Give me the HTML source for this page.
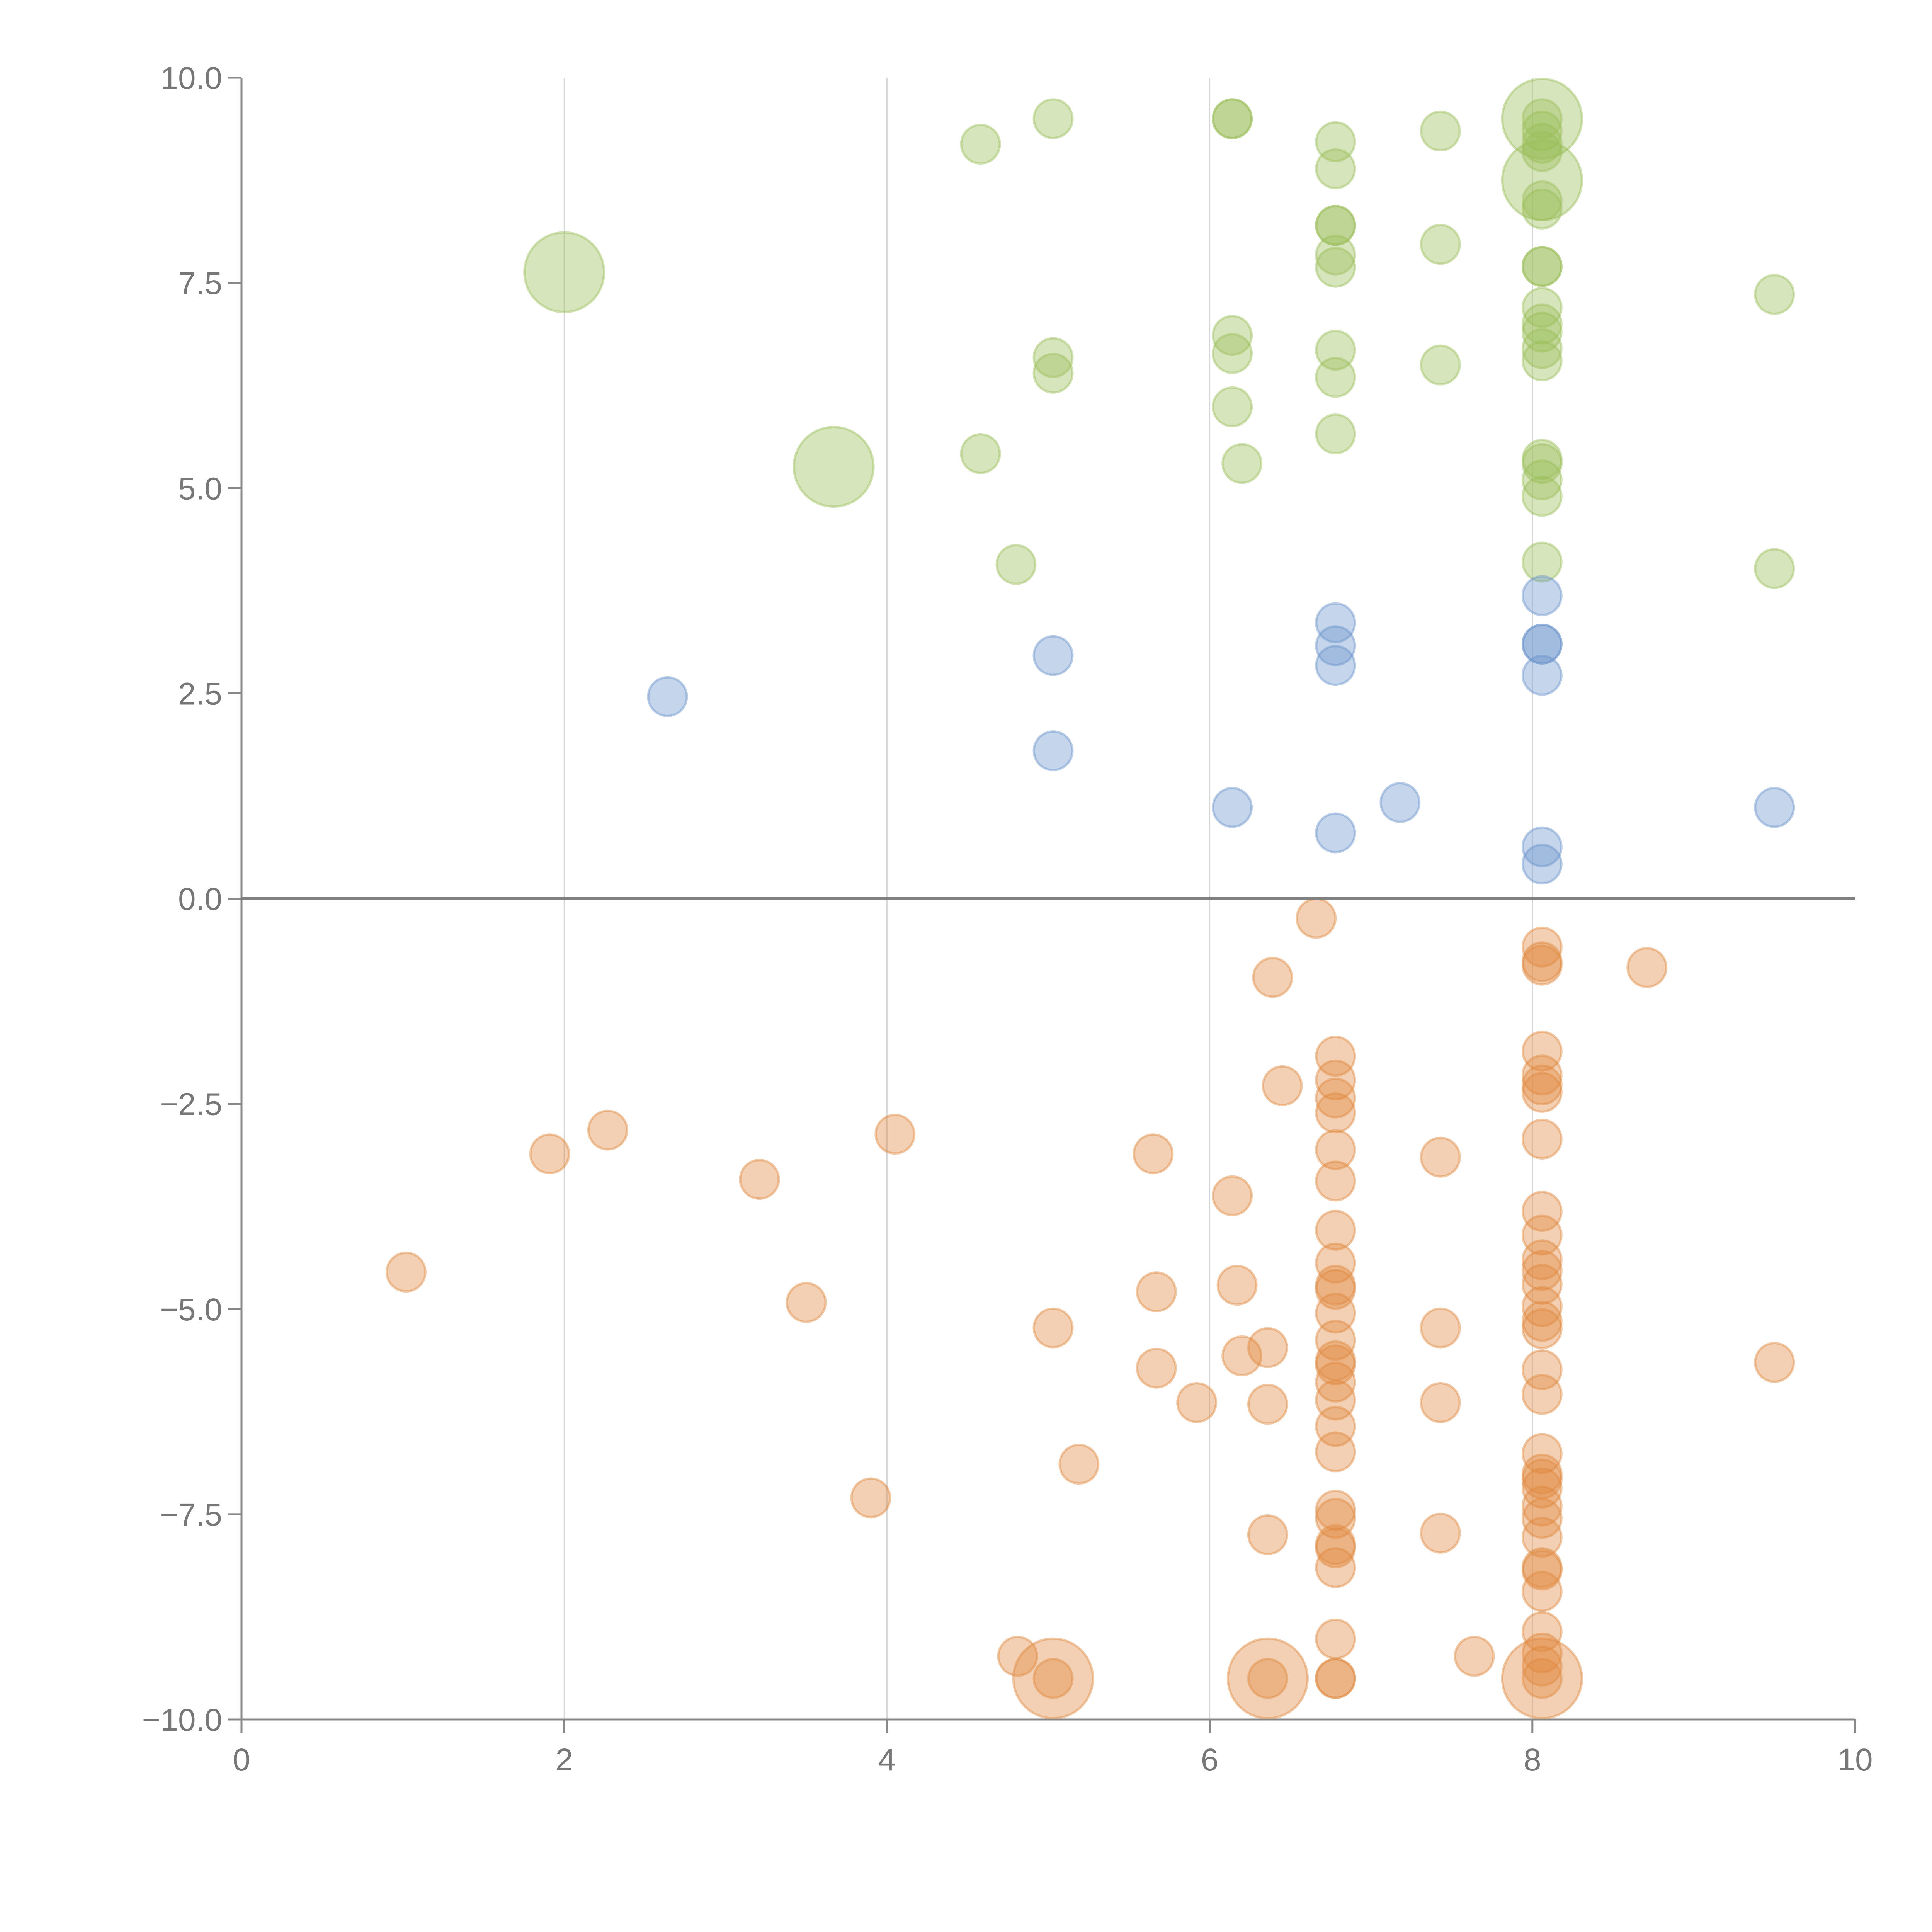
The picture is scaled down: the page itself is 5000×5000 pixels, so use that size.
<!DOCTYPE html>
<html><head><meta charset="utf-8"><style>html,body{margin:0;padding:0;background:#fff}svg{display:block}</style></head>
<body>
<svg id="chart" width="5000" height="5000" viewBox="0 0 5000 5000" xmlns="http://www.w3.org/2000/svg" font-family="Liberation Sans, sans-serif"></svg>
<script>
const xTicks = [0,2,4,6,8,10];
const yTicks = [10,7.5,5,2.5,0,-2.5,-5,-7.5,-10];
const yTickLabels = ["10.0","7.5","5.0","2.5","0.0","\u22122.5","\u22125.0","\u22127.5","\u221210.0"];
const greenX = [4.58,5.03,6.14,6.14,6.78,6.78,7.43,6.78,6.78,6.78,6.78,7.43,9.5,6.14,6.14,6.14,5.03,5.03,6.78,6.78,6.78,7.43,4.58,6.2,4.8,9.5,8.06,8.06,8.06,8.06,8.06,8.06,8.06,8.06,8.06,8.06,8.06,8.06,8.06,8.06,8.06,8.06,8.06,8.06];
const greenY = [9.19,9.5,9.5,9.5,9.22,8.89,9.35,8.2,8.2,7.84,7.69,7.97,7.36,6.86,6.64,5.99,6.59,6.4,6.68,6.35,5.66,6.5,5.42,5.3,4.07,4.02,9.5,9.35,9.2,9.1,8.5,8.4,7.7,7.7,7.2,7.0,6.9,6.7,6.55,5.35,5.3,5.1,4.9,4.1];
const greenBigX = [2.0,3.67,8.06,8.06];
const greenBigY = [7.63,5.26,9.5,8.75];
const blueX = [2.64,5.03,5.03,6.14,6.78,6.78,6.78,6.78,7.18,8.06,8.06,8.06,8.06,8.06,8.06,9.5];
const blueY = [2.46,2.96,1.8,1.11,3.36,3.08,2.84,0.8,1.17,3.69,3.1,3.1,2.72,0.63,0.42,1.11];
const orangeX = [6.66,6.39,8.06,8.06,8.06,8.71,6.45,1.91,2.27,3.21,4.05,1.02,3.5,5.65,6.14,5.67,6.17,5.03,5.67,5.92,6.2,6.36,6.36,5.19,3.9,6.36,7.43,7.43,7.43,7.43,7.64,4.81,9.5,5.03,6.36,8.06,
 6.78,6.78,6.78,6.78,6.78,6.78,6.78,6.78,6.78,6.78,6.78,6.78,6.78,6.78,6.78,6.78,6.78,6.78,6.78,6.78,6.78,6.78,6.78,6.78,6.78,6.78,
 8.06,8.06,8.06,8.06,8.06,8.06,8.06,8.06,8.06,8.06,8.06,8.06,8.06,8.06,8.06,8.06,8.06,8.06,8.06,8.06,8.06,8.06,8.06,8.06,8.06,8.06,8.06,8.06];
const orangeY = [-0.24,-0.96,-0.59,-0.77,-0.81,-0.84,-2.28,-3.11,-2.82,-3.42,-2.87,-4.55,-4.92,-3.11,-3.62,-4.79,-4.71,-5.23,-5.72,-6.14,-5.57,-5.47,-6.16,-6.89,-7.3,-7.75,-3.15,-5.23,-6.14,-7.73,-9.23,-9.23,-5.65,-9.5,-9.5,-9.5,
 -1.92,-2.21,-2.43,-2.61,-3.06,-3.44,-4.04,-4.44,-4.71,-4.76,-5.05,-5.38,-5.63,-5.68,-5.89,-6.11,-6.43,-6.74,-7.45,-7.55,-7.87,-7.91,-8.15,-9.02,-9.5,-9.5,
 -1.86,-2.15,-2.27,-2.36,-2.93,-3.81,-4.1,-4.4,-4.53,-4.7,-4.97,-5.15,-5.24,-5.74,-6.04,-6.76,-7.01,-7.07,-7.18,-7.4,-7.55,-7.78,-8.15,-8.18,-8.44,-8.93,-9.19,-9.35];
const orangeBigX = [5.03,6.36,8.06];
const orangeBigY = [-9.5,-9.5,-9.5];

const NS = "http://www.w3.org/2000/svg";
const svg = document.getElementById('chart');
const X0 = 625, X1 = 4801, YT = 201, YB = 4450;
const sx = v => X0 + (v - 0) / 10 * (X1 - X0);
const sy = v => YB - (v + 10) / 20 * (YB - YT);
function mk(tag, attrs) { const e = document.createElementNS(NS, tag); for (const k in attrs) e.setAttribute(k, attrs[k]); svg.appendChild(e); return e; }

[2,4,6,8].forEach(v => {
  const l = mk('line', {x1: sx(v), x2: sx(v), y1: YT, y2: YB, stroke: '#d6d6d6', 'stroke-width': 3});
  
  
});
const ya = mk('line', {x1: X0, x2: X0, y1: YT, y2: YB, stroke: '#888', 'stroke-width': 5});


const xa = mk('line', {x1: X0, x2: X1, y1: YB, y2: YB, stroke: '#888', 'stroke-width': 5});



xTicks.forEach(v => {
  const t = mk('line', {x1: sx(v), x2: sx(v), y1: YB, y2: YB + 35, stroke: '#888', 'stroke-width': 5});
  
  
  const tx = mk('text', {x: sx(v), y: YB + 132, 'text-anchor': 'middle', 'font-size': 82, fill: '#777'});
  tx.textContent = String(v);
  
  
});
yTicks.forEach((v, i) => {
  const t = mk('line', {x1: X0 - 35, x2: X0, y1: sy(v), y2: sy(v), stroke: '#888', 'stroke-width': 5});
  
  
  const tx = mk('text', {x: X0 - 50, y: sy(v) + 29, 'text-anchor': 'end', 'font-size': 82, fill: '#777'});
  tx.textContent = yTickLabels[i];
  
  
});

function series(xs, ys, r, color, name) {
  xs.forEach((x, i) => {
    const c = mk('circle', {cx: sx(x), cy: sy(ys[i]), r: r, fill: color, 'fill-opacity': 0.4, stroke: color, 'stroke-opacity': 0.45, 'stroke-width': 6});
    
    
  });
}
series(greenBigX, greenBigY, 103, '#9cbf5a', 'green-bubble-large');
series(orangeBigX, orangeBigY, 103, '#e08a40', 'orange-bubble-large');
series(greenX, greenY, 50, '#9cbf5a', 'green-bubble');
series(blueX, blueY, 50, '#6d95cc', 'blue-bubble');
series(orangeX, orangeY, 50, '#e08a40', 'orange-bubble');

const z = mk('line', {x1: X0, x2: X1, y1: sy(0), y2: sy(0), stroke: '#808080', 'stroke-width': 7});


</script>
</body></html>
